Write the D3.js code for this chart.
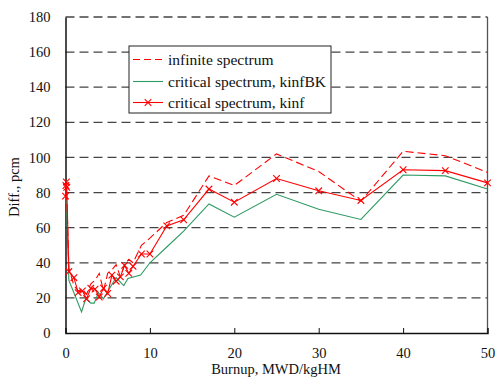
<!DOCTYPE html>
<html><head><meta charset="utf-8">
<script src="https://cdn.jsdelivr.net/npm/d3@7"></script>
<style>body{margin:0;background:#fff}svg{display:block}text{font-family:"Liberation Serif","Times New Roman",serif;fill:#111}</style>
</head><body><svg id="c" width="497" height="383"></svg>
<script>
const xTicks=[0,10,20,30,40,50];
const yTicks=[0,20,40,60,80,100,120,140,160,180];
const seriesNames=["infinite spectrum","critical spectrum, kinfBK","critical spectrum, kinf"];
const infX=[0,0.1,0.4,1,1.5,2,2.5,3,3.5,4,4.5,5,5.5,6,6.5,7,7.5,8,9,10,12,14,17,20,25,30,35,40,45,50];
const infY=[78,86,37,27,24,25,22,28,30,34,24,34,36,39,32,39,42,40,50,54,63,67,89.5,84,102,92,75,103.5,101,91.5];
const bkX=[0,0.1,0.4,1.2,1.9,2.4,3,3.4,3.9,4.5,5.1,6,6.9,7.4,8.9,10,12,14,17,20,25,30,35,40,45,50];
const bkY=[78,76,30,20.5,12,19.5,17,17,23,19.5,24.5,31.5,27,31,33,40,49,58,73.5,66,79,70.5,64.7,90,89.5,82];
const kX=[0,0.05,0.1,0.15,0.4,1,1.5,2,2.5,3,3.5,4,4.5,5,5.5,6,6.5,7,7.5,8,9,10,12,14,17,20,25,30,35,40,45,50];
const kY=[78,84,86,83,35,31.5,23,24,19.5,25.5,25,20.5,25.5,22.5,33,29.5,32,38.5,34,38,45,45,61,64.5,82,74.5,88,81,75.5,93,92.5,85.5];

const svg=d3.select("#c");
const x=d3.scaleLinear().domain([0,50]).range([65.5,487.5]);
const y=d3.scaleLinear().domain([0,180]).range([333,17]);
const green="#2e9a64", red="#ff0000";

// gridlines
svg.append("g").selectAll("line").data(yTicks.filter(d=>d>0)).join("line")
  .attr("x1",x(0)).attr("x2",x(50)).attr("y1",d=>y(d)).attr("y2",d=>y(d))
  .attr("stroke","#444").attr("stroke-width",1.3).attr("stroke-dasharray","9,5");
// right border
svg.append("line").attr("x1",x(50)).attr("x2",x(50)).attr("y1",y(180)).attr("y2",y(0)).attr("stroke","#555").attr("stroke-width",1.3);

// axes
const xa=svg.append("g").attr("transform",`translate(0,${y(0)})`)
  .call(d3.axisBottom(x).tickValues(xTicks).tickSize(-5).tickPadding(15).tickFormat(d3.format("d")));
const ya=svg.append("g").attr("transform",`translate(${x(0)},0)`)
  .call(d3.axisLeft(y).tickValues(yTicks).tickSize(0).tickPadding(15).tickFormat(d3.format("d")));
[xa,ya].forEach(a=>{a.select(".domain").attr("stroke","#111").attr("stroke-width",1.5);
  a.selectAll(".tick line").attr("stroke","#111").attr("stroke-width",1);
  a.selectAll("text").attr("font-size",14.5).attr("fill","#111").attr("font-family","Liberation Serif");});
xa.selectAll(".tick line").filter(d=>d===0||d===50).remove();

svg.append("text").attr("x",276).attr("y",374).attr("text-anchor","middle").attr("font-size",14.5).text("Burnup, MWD/kgHM");
svg.append("text").attr("transform","translate(19,187) rotate(-90)").attr("text-anchor","middle").attr("font-size",14.5).text("Diff., pcm");

const line=d3.line().x(d=>x(d[0])).y(d=>y(d[1]));
const zip=(a,b)=>a.map((v,i)=>[v,b[i]]);
const plot=svg.append("g");
plot.append("path").datum(zip(bkX,bkY)).attr("d",line).attr("fill","none").attr("stroke",green).attr("stroke-width",1.1);
plot.append("path").datum(zip(infX,infY)).attr("d",line).attr("fill","none").attr("stroke",red).attr("stroke-width",1.1).attr("stroke-dasharray","8,4");
plot.append("path").datum(zip(kX,kY)).attr("d",line).attr("fill","none").attr("stroke",red).attr("stroke-width",1.1);
const cross=d3.symbol().type(d3.symbolX).size(30);
plot.selectAll(".m").data(zip(kX,kY)).join("path").attr("class","m")
  .attr("transform",d=>`translate(${x(d[0])},${y(d[1])})`).attr("d",cross)
  .attr("fill","none").attr("stroke",red).attr("stroke-width",1.1);

// legend
const lg=svg.append("g");
lg.append("rect").attr("x",129).attr("y",46).attr("width",202).attr("height",67).attr("fill","#fff").attr("stroke","#222").attr("stroke-width",1);
const rows=[59.5,81.5,102.5];
const styles=[{c:red,d:"7,4",m:false},{c:green,d:null,m:false},{c:red,d:null,m:true}];
rows.forEach((ry,i)=>{
  const l=lg.append("line").attr("x1",133).attr("x2",163).attr("y1",ry).attr("y2",ry).attr("stroke",styles[i].c).attr("stroke-width",1.1);
  if(styles[i].d) l.attr("stroke-dasharray",styles[i].d);
  if(styles[i].m) lg.append("path").attr("transform",`translate(148,${ry})`).attr("d",cross).attr("fill","none").attr("stroke",red).attr("stroke-width",1.1);
  lg.append("text").attr("x",168).attr("y",ry+5).attr("font-size",15.5).text(seriesNames[i]);
});
</script></body></html>
